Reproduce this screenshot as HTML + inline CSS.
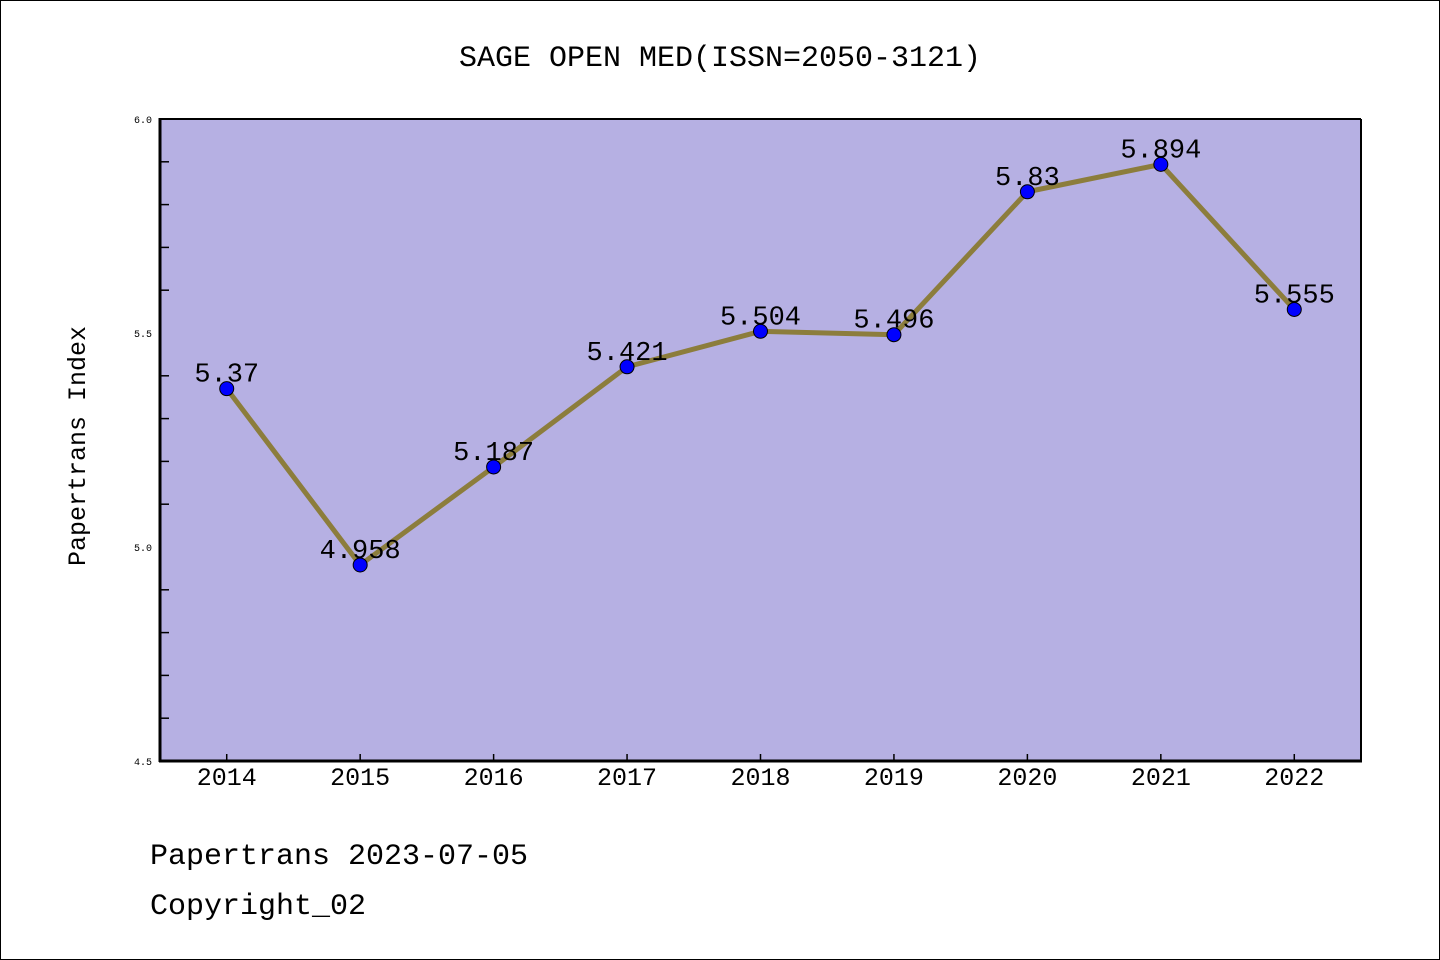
<!DOCTYPE html>
<html><head><meta charset="utf-8"><style>
body{margin:0;background:#fff}
svg{display:block}
text{font-family:"Liberation Mono",monospace}
</style></head><body>
<svg id="chart" width="1440" height="960" xmlns="http://www.w3.org/2000/svg">
<rect x="0.5" y="0.5" width="1439" height="959" fill="#fff" stroke="#000"/>
<text x="720" y="66" font-size="30" text-anchor="middle">SAGE OPEN MED(ISSN=2050-3121)</text>
<rect x="160" y="119" width="1201" height="642" fill="#b6b0e3"/>
<g id="ticks"></g>
<g id="series"></g>
<line x1="160" y1="119" x2="1361" y2="119" stroke="#000" stroke-width="2"/>
<line x1="1361" y1="119" x2="1361" y2="761" stroke="#000" stroke-width="2"/>
<line x1="160" y1="118" x2="160" y2="762" stroke="#000" stroke-width="3"/>
<line x1="159" y1="761" x2="1362" y2="761" stroke="#000" stroke-width="3"/>
<text transform="translate(85,446) rotate(-90)" font-size="25" text-anchor="middle">Papertrans Index</text>
<text x="150" y="864" font-size="30">Papertrans 2023-07-05</text>
<text x="150" y="914" font-size="30">Copyright_02</text>
</svg>
<script>
const years = [2014,2015,2016,2017,2018,2019,2020,2021,2022];
const values = [5.37,4.958,5.187,5.421,5.504,5.496,5.83,5.894,5.555];
const valueLabels = ["5.37","4.958","5.187","5.421","5.504","5.496","5.83","5.894","5.555"];
const yMajorTicks = [4.5,5.0,5.5,6.0];
const yMajorLabels = ["4.5","5.0","5.5","6.0"];
const yMinorTicks = [4.6,4.7,4.8,4.9,5.1,5.2,5.3,5.4,5.6,5.7,5.8,5.9];

const NS="http://www.w3.org/2000/svg";
const X0=160,X1=1361,Y0=761,Y1=119;
const xs=v=>X0+(v-2013.5)/9*(X1-X0);
const ys=v=>Y0-(v-4.5)/1.5*(Y0-Y1);
function mk(t,a,p){const e=document.createElementNS(NS,t);for(const k in a)e.setAttribute(k,a[k]);p.appendChild(e);return e;}
const tg=document.getElementById('ticks'), sg=document.getElementById('series');
yMajorTicks.forEach((v,i)=>{
  const t=mk('text',{x:152,y:ys(v)+4,'font-size':10,'text-anchor':'end'},tg);
  t.textContent=yMajorLabels[i];
  
  
});
yMinorTicks.forEach(v=>{
  const l=mk('line',{x1:160,x2:169,y1:ys(v),y2:ys(v),stroke:'#000','stroke-width':1.5},tg);
  
  
});
years.forEach(y=>{
  const l=mk('line',{x1:xs(y),x2:xs(y),y1:761,y2:754,stroke:'#000','stroke-width':1.5},tg);
  
  
  const t=mk('text',{x:xs(y),y:785,'font-size':25,'text-anchor':'middle'},tg);
  t.textContent=String(y);
  
  
});
const pts=years.map((y,i)=>xs(y)+','+ys(values[i])).join(' ');
const pl=mk('polyline',{points:pts,fill:'none',stroke:'#8c7d3c','stroke-width':5,'stroke-linejoin':'round'},sg);


years.forEach((y,i)=>{
  const c=mk('circle',{cx:xs(y),cy:ys(values[i]),r:7,fill:'#0000ff',stroke:'#000','stroke-width':1},sg);
  
  
  const t=mk('text',{x:xs(y),y:ys(values[i])-7,'font-size':27,'text-anchor':'middle'},sg);
  t.textContent=valueLabels[i];
  
  
});
</script>
</body></html>
